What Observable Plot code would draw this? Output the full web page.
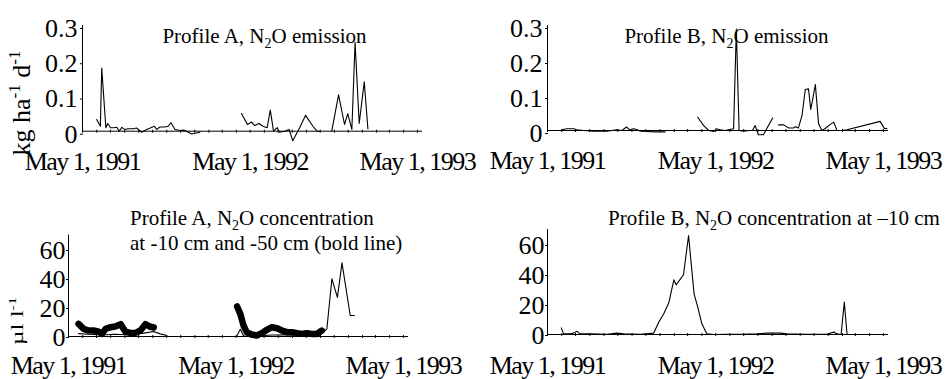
<!DOCTYPE html>
<html>
<head>
<meta charset="utf-8">
<script src="https://cdn.jsdelivr.net/npm/d3@7"></script>
<script src="https://cdn.jsdelivr.net/npm/@observablehq/plot@0.6"></script>
<style>
  html, body { margin: 0; padding: 0; background: #fff; }
  #chart { position: relative; width: 945px; height: 379px; overflow: hidden; background: #fff; }
  #chart svg { position: absolute; }
  #chart svg text { font-family: 'Liberation Serif', 'Times New Roman', Times, serif; }
  g[aria-label="x-axis tick label"] text { letter-spacing: -1.5px; }
</style>
</head>
<body>
<div id="chart"></div>
<script>
// Time axis: monthly ticks, labelled on May 1 of each year
const xStart = "1991-05-01";
const xEnd = "1993-05-10";
const yearTickDates = ["1991-05-01", "1992-05-01", "1993-05-01"];
const yearTickLabels = ["May 1, 1991", "May 1, 1992", "May 1, 1993"];

// Emission axes (kg ha-1 d-1)
const fluxTicks = [0, 0.1, 0.2, 0.3];
const fluxTickLabels = ["0", "0.1", "0.2", "0.3"];
// Concentration axes (µl l-1)
const concTicks = [0, 20, 40, 60];
const concTickLabels = ["0", "20", "40", "60"];

// Profile A, N2O emission (segments separated by sampling gaps)
const fluxA = [
  [["1991-06-01",0.033],["1991-06-09",0.014],["1991-06-12",0.179],["1991-06-21",0.010],["1991-06-25",0.022],
   ["1991-07-01",0.010],["1991-07-08",0.010],["1991-07-15",0.011],["1991-07-20",0.000],["1991-07-26",0.011],
   ["1991-08-01",0.005],["1991-08-09",0.007],["1991-08-20",0.007],["1991-08-27",0.009],["1991-08-31",0.005],
   ["1991-09-07",-0.003],["1991-09-18",0.005],["1991-09-26",0.009],["1991-10-05",0.014],["1991-10-10",0.005],
   ["1991-10-17",0.012],["1991-10-28",0.012],["1991-11-04",0.014],["1991-11-10",0.024],["1991-11-19",0.005],
   ["1991-11-30",0.002],["1991-12-09",0.003],["1991-12-18",-0.003],["1991-12-25",-0.008],["1992-01-05",-0.005],
   ["1992-01-12",-0.003]],
  [["1992-04-12",0.050],["1992-04-25",0.019],["1992-05-04",0.026],["1992-05-11",0.016],["1992-05-20",0.022],
   ["1992-05-29",0.014],["1992-06-07",0.010],["1992-06-14",0.060],["1992-06-21",0.000],["1992-06-29",0.010],
   ["1992-07-04",-0.003],["1992-07-15",0.000],["1992-07-25",0.005],["1992-08-02",-0.027],["1992-08-17",0.010],
   ["1992-08-30",0.045],["1992-09-15",0.014],["1992-09-24",0.000],["1992-09-29",0.000]],
  [["1992-10-26",0.000],["1992-11-10",0.103],["1992-11-23",0.019],["1992-11-30",0.050],["1992-12-09",0.005],
   ["1992-12-16",0.252],["1992-12-25",0.022],["1993-01-05",0.140],["1993-01-13",0.007]]
];

// Profile B, N2O emission
const fluxB = [
  [["1991-06-01",0.002],["1991-06-12",0.005],["1991-06-27",0.005],["1991-07-04",0.002],["1991-07-19",0.000],
   ["1991-08-09",-0.002],["1991-09-07",-0.002],["1991-09-29",0.002],["1991-10-10",0.000],["1991-10-20",0.010],
   ["1991-10-27",0.002],["1991-11-04",0.005],["1991-11-11",0.003],["1991-11-19",-0.002],["1991-12-03",-0.003],
   ["1991-12-21",-0.004],["1992-01-12",-0.004]],
  [["1992-03-23",0.038],["1992-04-05",0.014],["1992-04-16",0.000],["1992-04-27",-0.003],["1992-05-02",0.005],
   ["1992-05-11",0.002],["1992-05-22",0.000],["1992-05-31",0.003],["1992-06-09",0.005],["1992-06-15",0.290],
   ["1992-06-21",0.000],["1992-07-01",-0.002],["1992-07-12",0.000],["1992-07-20",0.000],["1992-07-26",0.014],
   ["1992-08-02",-0.012],["1992-08-13",-0.012],["1992-08-20",0.005],["1992-09-02",0.036]],
  [["1992-09-15",0.016],["1992-09-26",0.016],["1992-10-07",0.007],["1992-10-17",0.007],["1992-10-22",0.011],
   ["1992-10-28",0.007],["1992-11-05",0.043],["1992-11-12",0.117],["1992-11-19",0.119],["1992-11-24",0.060],
   ["1992-12-04",0.131],["1992-12-11",0.019],["1992-12-18",0.000],["1992-12-25",0.005],["1993-01-04",0.016],
   ["1993-01-13",0.024],["1993-01-20",0.000],["1993-01-31",0.000],["1993-02-11",0.002],["1993-04-24",0.026],
   ["1993-05-03",0.006],["1993-05-09",0.005]]
];

// Profile A, N2O concentration at -10 cm (thin line)
const concA10 = [
  [["1991-05-23",2.0],["1991-06-14",1.5],["1991-07-13",1.0],["1991-08-11",1.5],["1991-09-13",1.0],
   ["1991-10-16",2.5],["1991-11-03",3.4],["1991-11-17",1.8],["1991-12-02",0.7]],
  [["1992-05-03",0.7],["1992-05-10",5.0],["1992-05-17",0.5],["1992-06-15",0.3],["1992-07-18",1.0],
   ["1992-08-20",1.2],["1992-09-22",1.0],["1992-11-04",2.0],["1992-11-15",5.3],["1992-11-26",39.8],
   ["1992-12-08",27.0],["1992-12-18",50.8],["1993-01-05",14.5],["1993-01-14",14.5]]
];

// Profile A, N2O concentration at -50 cm (bold line)
const concA50 = [
  [["1991-05-23",8.7],["1991-06-03",5.3],["1991-06-14",4.1],["1991-06-25",4.1],["1991-07-06",3.4],
   ["1991-07-13",1.8],["1991-07-21",5.3],["1991-08-01",6.4],["1991-08-11",6.9],["1991-08-23",8.5],
   ["1991-09-02",3.4],["1991-09-13",2.5],["1991-09-24",2.5],["1991-10-05",4.1],["1991-10-16",8.5],
   ["1991-10-25",6.9],["1991-11-03",6.2]],
  [["1992-05-03",20.7],["1992-05-10",15.6],["1992-05-17",7.6],["1992-05-24",3.0],["1992-06-04",1.4],
   ["1992-06-15",0.7],["1992-06-26",2.3],["1992-07-07",4.6],["1992-07-18",6.4],["1992-07-29",5.7],
   ["1992-08-09",4.1],["1992-08-20",3.0],["1992-08-31",3.0],["1992-09-11",2.3],["1992-09-22",1.8],
   ["1992-10-02",2.3],["1992-10-13",1.8],["1992-10-24",1.8],["1992-11-04",4.1]]
];

// Profile B, N2O concentration at -10 cm
const concB10 = [
  [["1991-05-31",4.4],["1991-06-05",0.4],["1991-06-20",0.4],["1991-06-27",0.9],["1991-07-04",2.2],
   ["1991-07-11",0.4],["1991-08-02",0.4],["1991-09-07",0.2],["1991-09-29",0.9],["1991-10-14",0.4],
   ["1991-11-19",0.2],["1991-12-18",0.9],["1991-12-29",8.2],["1992-01-09",13.8],["1992-01-20",21.1],
   ["1992-01-31",36.4],["1992-02-05",33.1],["1992-02-21",39.8],["1992-03-03",66.0],["1992-03-15",27.1],
   ["1992-03-23",18.2],["1992-04-01",7.1],["1992-04-12",0.4],["1992-04-27",0.0],["1992-05-25",0.2],
   ["1992-06-24",0.2],["1992-07-30",0.4],["1992-08-20",0.9],["1992-09-19",0.9],["1992-10-03",0.4],
   ["1992-11-15",0.2],["1992-12-29",0.2],["1993-01-13",1.6],["1993-01-20",0.4],["1993-01-29",0.0],
   ["1993-02-05",21.6],["1993-02-11",0.0]]
];

// Titles: [text, role] where role "sub" is a subscript
const titleA1 = [["Profile A, N"], ["2", "sub"], ["O emission"]];
const titleB1 = [["Profile B, N"], ["2", "sub"], ["O emission"]];
const titleA2 = [["Profile A, N"], ["2", "sub"], ["O concentration"]];
const titleA2b = [["at -10 cm and -50 cm (bold line)"]];
const titleB2 = [["Profile B, N"], ["2", "sub"], ["O concentration at \u201310 cm"]];
const unitFlux = [["kg ha"], ["-1", "sup"], [" d"], ["-1", "sup"]];
const unitConc = [["\u00b5l l"], ["-1", "sup"]];

const FONT = "'Liberation Serif', 'Times New Roman', Times, serif";
const parse = s => new Date(s + "T00:00:00Z");
const monthTicks = d3.utcMonth.range(parse("1991-05-01"), parse("1993-05-02"));
const yearTicks = yearTickDates.map(parse);

// flatten segments into rows carrying their segment id (so gaps stay open)
const rows = segs => segs.flatMap((seg, k) => seg.map(([d, v]) => ({date: parse(d), value: v, seg: k})));

function panel({w, h, ml, mr, mt, mb, yDomain, yTicks, yLabels, yPad, yDy, xPad, marks}) {
  return Plot.plot({
    width: w, height: h,
    marginLeft: ml, marginRight: mr, marginTop: mt, marginBottom: mb,
    style: {background: "transparent", overflow: "visible", color: "black", fontFamily: FONT},
    x: {type: "utc", domain: [parse(xStart), parse(xEnd)]},
    y: {domain: yDomain},
    marks: [
      Plot.frame({anchor: "left", stroke: "black", strokeWidth: 1}),
      Plot.frame({anchor: "bottom", stroke: "black", strokeWidth: 1}),
      Plot.axisY({ticks: yTicks, tickFormat: d => yLabels[yTicks.indexOf(d)], tickSize: 3, dx: 1,
                  tickPadding: yPad, fontSize: 26, fontFamily: FONT, dy: yDy, label: null}),
      Plot.axisX({ticks: monthTicks, tickSize: 3, dy: -1, tickFormat: () => "", label: null}),
      Plot.axisX({ticks: yearTicks, tickSize: 0, tickPadding: xPad, fontSize: 26, fontFamily: FONT, label: null,
                  tickFormat: d => yearTickLabels[yearTicks.findIndex(t => +t === +d)]}),
      ...marks
    ]
  });
}

const thin = data => Plot.line(rows(data), {x: "date", y: "value", z: "seg", stroke: "black", strokeWidth: 1.1});

const tl = panel({w: 472, h: 190, ml: 82, mr: 51, mt: 25, mb: 59.3,
  yDomain: [0, 0.3], yTicks: fluxTicks, yLabels: fluxTickLabels, yPad: 3, yDy: 3, xPad: 20,
  marks: [thin(fluxA)]});
const tr = panel({w: 473, h: 190, ml: 75, mr: 58, mt: 25, mb: 60,
  yDomain: [0, 0.3], yTicks: fluxTicks, yLabels: fluxTickLabels, yPad: 3, yDy: 3, xPad: 20,
  marks: [thin(fluxB)]});
const bl = panel({w: 472, h: 189, ml: 68, mr: 65, mt: 44.5, mb: 43,
  yDomain: [0, 70], yTicks: concTicks, yLabels: concTickLabels, yPad: 1, yDy: 1, xPad: 19,
  marks: [
    thin(concA10),
    Plot.line(rows(concA50), {x: "date", y: "value", z: "seg", stroke: "black", strokeWidth: 6.5,
      strokeLinejoin: "round", strokeLinecap: "round"})
  ]});
const br = panel({w: 473, h: 189, ml: 75, mr: 58, mt: 39, mb: 45,
  yDomain: [0, 70], yTicks: concTicks, yLabels: concTickLabels, yPad: 1, yDy: 1, xPad: 21,
  marks: [thin(concB10)]});

// rich text with sub/superscripts
function richText(svg, parts, {x, y, anchor = "start", size = 21, rotate = 0, transform = ""}) {
  const t = d3.select(svg).append("text")
    .attr("text-anchor", anchor)
    .attr("transform", `translate(${x},${y}) rotate(${rotate}) ${transform}`)
    .style("font-size", size + "px").attr("fill", "black");
  let shift = 0;
  for (const [txt, role] of parts) {
    const want = role === "sub" ? size * 0.22 : role === "sup" ? -size * 0.38 : 0;
    t.append("tspan").attr("dy", want - shift)
      .style("font-size", role ? Math.round(size * 0.65) + "px" : null)
      .text(txt);
    shift = want;
  }
  return t;
}

richText(tl, titleA1, {x: 264.5, y: 43, anchor: "middle"});
richText(tr, titleB1, {x: 254.5, y: 43, anchor: "middle"});
richText(bl, titleA2, {x: 130, y: 35});
richText(bl, titleA2b, {x: 130, y: 60});
richText(br, titleB2, {x: 136, y: 35});
richText(tl, unitFlux, {x: 30, y: 103, anchor: "middle", size: 26, rotate: -90});
richText(bl, unitConc, {x: 23, y: 131, anchor: "middle", size: 25, rotate: -90, transform: "scale(1,0.7)"});

const root = document.getElementById("chart");
for (const [svg, left, top] of [[tl, 0, 0], [tr, 472, 0], [bl, 0, 190], [br, 472, 190]]) {
  svg.style.left = left + "px";
  svg.style.top = top + "px";
  root.appendChild(svg);
}
</script>
</body>
</html>
